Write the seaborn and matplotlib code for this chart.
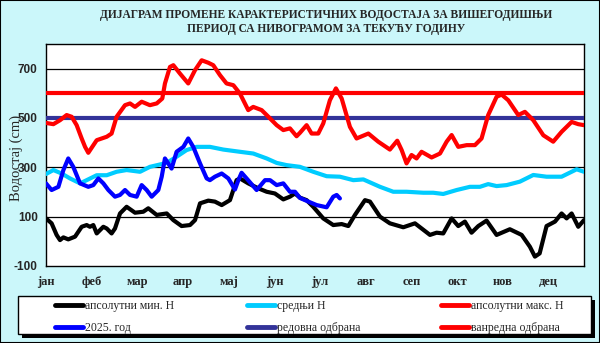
import numpy as np
import pandas as pd
import matplotlib
matplotlib.use("Agg")
import matplotlib.pyplot as plt
import seaborn as sns
from matplotlib.patches import Rectangle

# ---- data (day of year, value in cm) ----
months = ["јан", "феб", "мар", "апр", "мај", "јун", "јул", "авг", "сеп", "окт", "нов", "дец"]
month_days = [0, 31, 62, 93, 124, 155, 186, 217, 248, 279, 310, 341]

max_day = [0, 5, 9.5, 14, 17.4, 20.8, 24.2, 26.5, 28.7, 34.4, 41.2, 44.5, 47.9, 53.6, 57, 60.4, 64.9,
           70.5, 75.1, 78.9, 80.7, 84.1, 86.4, 90.9, 96.5, 101.1, 105.6, 110.1, 113.5, 118, 122.5,
           127.1, 131.6, 137.2, 140.6, 146.3, 149.7, 156.5, 161, 165.5, 170, 172.3, 176.8, 180.2,
           184.7, 188.1, 192.6, 196.7, 200.6, 206.2, 210.7, 218.7, 225.4, 233.3, 238.3, 241.3,
           244.6, 248, 251.4, 254.8, 261.6, 267.3, 271.8, 275.2, 279.7, 285.4, 291, 295.5, 300,
           305.7, 309.1, 313.6, 320.4, 324.9, 330.6, 337.4, 344.1, 349.8, 356.6, 361.1, 365]
max_val = [480, 475, 491, 512, 505, 471, 417, 383, 359, 410, 424, 437, 505, 552, 559, 545, 566,
           552, 559, 579, 640, 707, 714, 680, 640, 694, 734, 724, 714, 674, 640,
           633, 599, 532, 545, 532, 512, 471, 451, 458, 426, 440, 471, 437,
           437, 478, 572, 620, 579, 464, 417, 437, 404, 372, 408, 370,
           316, 350, 336, 363, 340, 356, 404, 431, 383, 390, 390, 417, 512,
           586, 595, 572, 512, 525, 491, 430, 404, 444, 484, 475, 471]

mean_day = [0, 5, 10.6, 16.3, 23.1, 27.6, 34.4, 41.2, 47.9, 54.7, 63.8, 70.5, 81.9, 88.6, 95.4,
            102.2, 111.2, 120.3, 131.6, 140.6, 149.7, 156.5, 163.2, 172.3, 181.3, 190.4, 199.4,
            208.5, 215.3, 226.6, 235.6, 244.6, 256, 262.7, 269.5, 278.6, 287.6, 294.4, 300,
            305.7, 312.5, 321.5, 330.6, 339.6, 349.8, 360, 365]
mean_val = [273, 289, 275, 255, 235, 248, 268, 268, 282, 289, 282, 302, 318, 343, 370,
            383, 383, 372, 363, 356, 336, 318, 309, 302, 282, 264, 262,
            248, 251, 221, 201, 201, 197, 197, 192, 208, 221, 221, 232,
            224, 228, 242, 269, 262, 262, 292, 282]

min_day = [0, 3.8, 7.2, 9.5, 11.8, 15.1, 19.7, 24.2, 27.6, 29.8, 32.1, 34.4, 38.9, 41.2, 44.5,
           46.8, 50.2, 54.7, 60.4, 66, 69.4, 75.1, 81.9, 86.4, 92, 97.7, 101.1, 104.5, 110.1,
           114.6, 119.2, 124.8, 129.3, 131.6, 137.2, 144, 149.7, 155.3, 161, 165.5, 168.9,
           172.3, 176.8, 181.3, 188.1, 194.9, 200.6, 205.1, 209.6, 216.4, 219.8, 226.6, 233.3,
           242.4, 250.3, 260.5, 265, 269.5, 275.2, 279.7, 284.2, 288.7, 293.3, 298.9, 305.7,
           314.7, 322.7, 328.3, 331.7, 334.9, 339.6, 345.3, 349.8, 353.2, 356.6, 361.1, 365]
min_val = [93, 73, 26, 5, 16, 8, 19, 59, 66, 59, 66, 32, 59, 52, 32,
           52, 113, 140, 116, 120, 134, 107, 113, 86, 62, 66, 86, 154, 165,
           161, 147, 167, 248, 255, 235, 215, 201, 194, 170, 181, 194,
           177, 167, 140, 93, 66, 70, 62, 107, 167, 161, 100, 73,
           57, 73, 26, 35, 32, 93, 62, 80, 35, 62, 84, 26,
           49, 26, -22, -62, -49, 62, 80, 113, 93, 113, 59, 86]

cur_day = [0, 3.8, 8.4, 11.8, 15.1, 18.5, 23.1, 28.7, 32.1, 35.5, 38.9, 42.3, 46.8, 50.2, 53.6,
           57, 61.5, 64.9, 68.3, 71.7, 76.2, 78.5, 80.7, 85.2, 88.6, 93.2, 96.5, 99.9, 104.5,
           109, 111.2, 114.6, 119.2, 123.7, 128.2, 130.5, 132.7, 136.1, 142.9, 148.6, 152,
           156.5, 161, 165.5, 168.9, 172.3, 178, 183.6, 190.4, 194.9, 197.2, 199.4]
cur_val = [235, 208, 221, 289, 336, 302, 235, 221, 228, 255, 235, 208, 181, 188, 208,
           188, 181, 228, 208, 181, 208, 262, 336, 295, 363, 383, 417, 383, 316,
           255, 248, 262, 275, 255, 210, 248, 278, 255, 208, 248, 248,
           228, 235, 201, 201, 176, 161, 147, 138, 181, 188, 174]

regular_defense = 500
extraordinary_defense = 600

labels = ["апсолутни мин. H", "средњи H", "апсолутни макс. H",
          "2025. год", "редовна одбрана", "ванредна одбрана"]
title = "ДИЈАГРАМ ПРОМЕНЕ КАРАКТЕРИСТИЧНИХ ВОДОСТАЈА ЗА ВИШЕГОДИШЊИ\nПЕРИОД СА НИВОГРАМОМ ЗА ТЕКУЋУ ГОДИНУ"

# ---- plot ----
sns.set_theme(style="white")
plt.rcParams["font.family"] = ["Liberation Serif", "DejaVu Serif"]

bg = "#cbf7fa"
fig = plt.figure(figsize=(6.0, 3.43), dpi=100, facecolor=bg)
ax = fig.add_axes([46 / 600, 1 - 266 / 343, (584 - 46) / 600, (266 - 44) / 343])
ax.set_facecolor("white")

lw = 3.0
df_min = pd.DataFrame({"day": min_day, "val": min_val})
df_mean = pd.DataFrame({"day": mean_day, "val": mean_val})
df_max = pd.DataFrame({"day": max_day, "val": max_val})
df_cur = pd.DataFrame({"day": cur_day, "val": cur_val})
df_reg = pd.DataFrame({"day": [0, 365], "val": [regular_defense] * 2})
df_ext = pd.DataFrame({"day": [0, 365], "val": [extraordinary_defense] * 2})

for y in [100, 300, 500, 700]:
    ax.axhline(y, color="black", lw=0.9, zorder=1)

sns.lineplot(data=df_ext, x="day", y="val", color="#ff0000", lw=lw, ax=ax, label=labels[5], zorder=3)
sns.lineplot(data=df_reg, x="day", y="val", color="#333399", lw=lw, ax=ax, label=labels[4], zorder=3)
sns.lineplot(data=df_min, x="day", y="val", color="black", lw=lw, ax=ax, label=labels[0], zorder=4)
sns.lineplot(data=df_mean, x="day", y="val", color="#00ccff", lw=lw, ax=ax, label=labels[1], zorder=4)
sns.lineplot(data=df_max, x="day", y="val", color="#ff0000", lw=lw, ax=ax, label=labels[2], zorder=4)
sns.lineplot(data=df_cur, x="day", y="val", color="#0000ff", lw=lw, ax=ax, label=labels[3], zorder=5)

ax.set_xlim(0, 365)
ax.set_ylim(-100, 800)
ax.set_yticks([-100, 100, 300, 500, 700])
ax.set_yticklabels(["-100", "100", "300", "500", "700"], fontfamily="Liberation Sans",
                   fontweight="bold", fontsize=8.5)
ax.set_xticks(month_days)
ax.set_xticklabels(months, fontweight="bold", fontsize=9)
ax.tick_params(axis="both", direction="out", length=4, width=0.9, color="black", pad=2)
ax.tick_params(axis="x", pad=3)
for s in ax.spines.values():
    s.set_color("black")
    s.set_linewidth(1.0)
ax.set_xlabel("")
ax.set_ylabel("")
fig.text(16 / 600, 1 - 158 / 343, "Водостај (cm)", rotation=90, ha="center", va="center",
         fontsize=10.5)

fig.text(0.543, 1 - 22 / 343, title, ha="center", va="center", fontsize=8.3,
         fontweight="bold", linespacing=1.2)

handles, labs = ax.get_legend_handles_labels()
hmap = {l: h for h, l in zip(handles, labs)}
ax.get_legend().remove()

# legend frame with black shadow
W, H = 600.0, 343.0
lx0, lx1, ly0, ly1 = 18, 591, 296, 334
fig.patches.append(Rectangle(((lx0 + 4) / W, 1 - (ly1 + 4) / H), (lx1 - lx0) / W, (ly1 - ly0) / H,
                             transform=fig.transFigure, facecolor="black", edgecolor="black",
                             lw=0, zorder=2))
fig.patches.append(Rectangle((lx0 / W, 1 - ly1 / H), (lx1 - lx0) / W, (ly1 - ly0) / H,
                             transform=fig.transFigure, facecolor="white", edgecolor="black",
                             lw=1.0, zorder=3))

col_x = [55, 247, 441]
cols = [[0, 3], [1, 4], [2, 5]]
for cx, idx in zip(col_x, cols):
    leg = fig.legend([hmap[labels[i]] for i in idx], [labels[i] for i in idx],
                     loc="upper left", bbox_to_anchor=(cx / W, 1 - 300 / H),
                     frameon=False, borderpad=0, borderaxespad=0, fontsize=8.5,
                     handlelength=2.35, handletextpad=0.15, labelspacing=0.85)
    leg.set_zorder(5)
    for ln in leg.get_lines():
        ln.set_linewidth(3.5)

fig.patches.append(Rectangle((0, 0), 1, 1, transform=fig.transFigure, fill=False,
                             edgecolor="black", lw=1.5, zorder=10))

fig.savefig("out.png", dpi=100, facecolor=bg)
